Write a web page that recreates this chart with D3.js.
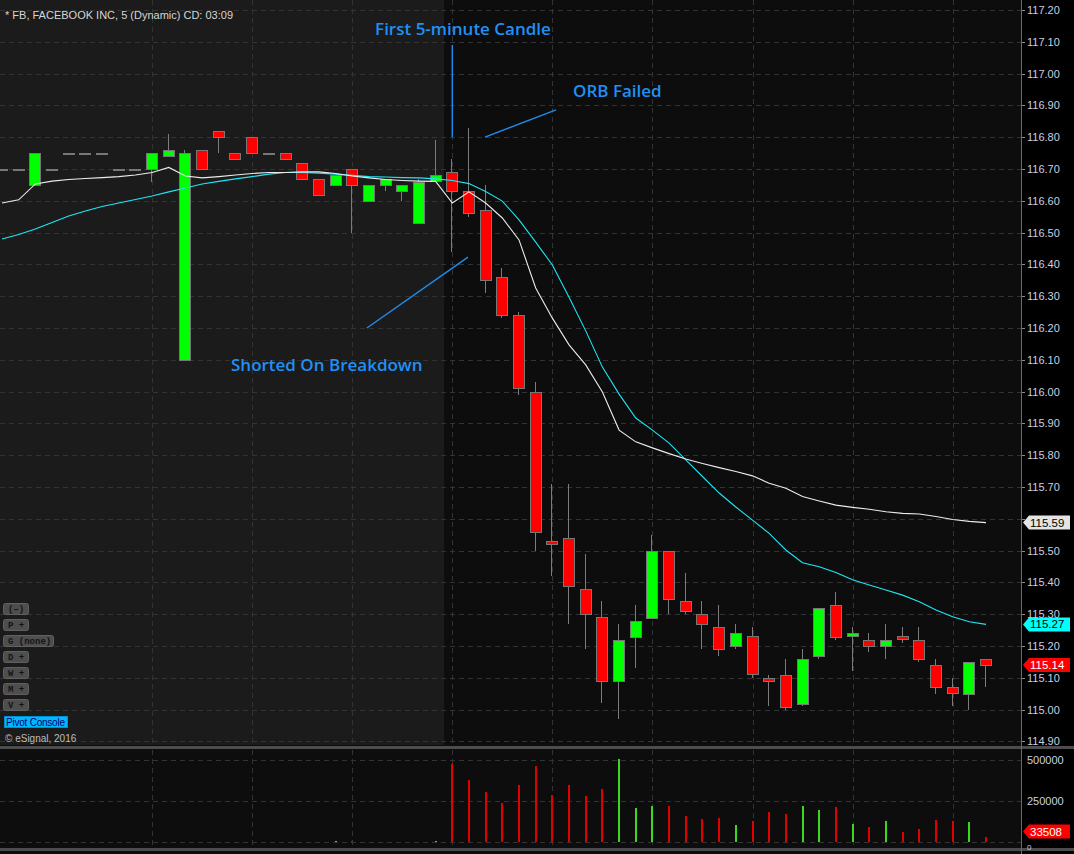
<!DOCTYPE html>
<html>
<head>
<meta charset="utf-8">
<script src="https://cdn.jsdelivr.net/npm/d3@7"></script>
<style>
  html, body { margin: 0; padding: 0; background: #000; }
  svg { display: block; }
</style>
</head>
<body>
<script>
// 5-minute bars, FB, pre-market then regular session from 09:30
const times = ['07:15','07:20','07:25','07:30','07:35','07:40','07:45','07:50','07:55','08:00',
    '08:05','08:10','08:15','08:20','08:25','08:30','08:35','08:40','08:45','08:50',
    '08:55','09:00','09:05','09:10','09:15','09:20','09:25','09:30','09:35','09:40',
    '09:45','09:50','09:55','10:00','10:05','10:10','10:15','10:20','10:25','10:30',
    '10:35','10:40','10:45','10:50','10:55','11:00','11:05','11:10','11:15','11:20',
    '11:25','11:30','11:35','11:40','11:45','11:50','11:55','12:00','12:05','12:10']

const opens = [116.70,116.70,116.65,116.70,116.75,116.75,116.75,116.70,116.70,116.70,
    116.74,116.10,116.76,116.82,116.75,116.80,116.75,116.75,116.72,116.67,
    116.65,116.70,116.60,116.65,116.63,116.53,116.66,116.69,116.63,116.57,
    116.36,116.24,116.00,115.53,115.54,115.38,115.29,115.09,115.23,115.29,
    115.50,115.34,115.30,115.26,115.20,115.23,115.10,115.11,115.02,115.17,
    115.33,115.23,115.22,115.20,115.23,115.22,115.14,115.07,115.05,115.16]

const highs = [116.70,116.70,116.75,116.70,116.75,116.75,116.75,116.70,116.70,116.75,
    116.81,116.76,116.76,116.82,116.75,116.80,116.75,116.75,116.72,116.67,
    116.68,116.70,116.65,116.67,116.65,116.67,116.79,116.73,116.83,116.65,
    116.39,116.25,116.03,115.71,115.71,115.49,115.34,115.27,115.33,115.55,
    115.50,115.43,115.34,115.33,115.27,115.26,115.11,115.16,115.19,115.32,
    115.37,115.26,115.24,115.27,115.26,115.26,115.16,115.10,115.15,115.16]

const lows = [116.70,116.70,116.65,116.70,116.75,116.75,116.75,116.70,116.70,116.66,
    116.74,116.10,116.70,116.75,116.73,116.75,116.75,116.73,116.67,116.62,
    116.65,116.50,116.60,116.63,116.60,116.53,116.66,116.44,116.55,116.31,
    116.23,115.99,115.50,115.42,115.27,115.19,115.02,114.97,115.13,115.29,
    115.30,115.30,115.19,115.17,115.19,115.10,115.01,115.00,115.01,115.16,
    115.22,115.12,115.18,115.16,115.21,115.15,115.05,115.01,115.00,115.07]

const closes = [116.70,116.70,116.75,116.70,116.75,116.75,116.75,116.70,116.70,116.75,
    116.76,116.75,116.70,116.80,116.73,116.75,116.75,116.73,116.67,116.62,
    116.68,116.65,116.65,116.67,116.65,116.66,116.68,116.63,116.56,116.35,
    116.24,116.01,115.56,115.52,115.39,115.30,115.09,115.22,115.28,115.50,
    115.35,115.31,115.27,115.19,115.24,115.11,115.09,115.01,115.16,115.32,
    115.23,115.24,115.20,115.22,115.22,115.16,115.07,115.05,115.15,115.14]

const volumes = [0,0,0,0,0,0,0,0,0,0,
    0,0,0,0,0,0,0,0,0,0,
    4000,8000,0,0,0,0,8000,477000,379000,306000,
    239000,349000,465000,288000,349000,282000,324000,508000,208000,220000,
    220000,159000,141000,147000,104000,128000,184000,171000,220000,196000,
    214000,110000,92000,128000,61000,80000,135000,128000,122000,33508]

// moving averages (white = fast, cyan = slow)
const maFast = [116.593,116.603,116.653,116.662,116.667,116.670,116.673,116.676,116.681,116.689,
    116.705,116.678,116.672,116.676,116.681,116.686,116.689,116.689,116.691,116.691,
    116.686,116.678,116.672,116.667,116.664,116.662,116.661,116.593,116.628,116.593,
    116.546,116.477,116.326,116.231,116.147,116.084,115.999,115.879,115.842,115.823,
    115.805,115.788,115.774,115.761,115.749,115.735,115.712,115.696,115.670,115.656,
    115.643,115.636,115.630,115.622,115.617,115.615,115.607,115.598,115.592,115.588]

const maSlow = [116.480,116.494,116.511,116.532,116.552,116.568,116.582,116.593,116.604,116.615,
    116.628,116.640,116.653,116.661,116.669,116.676,116.684,116.689,116.689,116.687,
    116.684,116.680,116.676,116.675,116.673,116.672,116.669,116.664,116.654,116.629,
    116.599,116.540,116.470,116.398,116.297,116.191,116.077,115.992,115.917,115.879,
    115.838,115.785,115.733,115.681,115.637,115.596,115.554,115.502,115.462,115.449,
    115.431,115.408,115.392,115.376,115.360,115.339,115.313,115.292,115.276,115.268]

const priceTicks = [117.20,117.10,117.00,116.90,116.80,116.70,116.60,116.50,116.40,116.30,116.20,116.10,
    116.00,115.90,115.80,115.70,115.60,115.50,115.40,115.30,115.20,115.10,115.00,114.90]
const volumeTicks = [500000, 250000, 0]

const sessionStart = '09:30'
const title = '* FB, FACEBOOK INC, 5 (Dynamic) CD: 03:09'
const buttons = ['(\u2013)', 'P +', 'G (none)', 'D +', 'W +', 'M +', 'V +']

// annotations in bar-index / price space
const notes = [
    { text: 'First 5-minute Candle', at: [22.37, 117.121], line: [[27, 117.09], [27, 116.80]] },
    { text: 'ORB Failed', at: [34.24, 116.926], line: [[28.96, 116.80], [33.22, 116.886]] },
    { text: 'Shorted On Breakdown', at: [13.73, 116.065], line: [[21.88, 116.20], [27.94, 116.423]] }
]

const w = 1074
const h = 854
const axisX = 1021
const priceBottom = 745
const volTop = 750
const volBottom = 848
const font = "'Liberation Sans', Arial, sans-serif"

const svg = d3.select('body').append('svg')
    .attr('width', w)
    .attr('height', h)

const x = d3.scalePoint().domain(times).range([2, 986])
const xi = i => x(times[0]) + i * x.step()
const y = d3.scaleLinear().domain([114.90, 117.20]).range([741.4, 10])
const yVol = d3.scaleLinear().domain([0, 500000]).range([842, 760.3])

const sessionX = Math.round(x(sessionStart) - x.step() / 2)

// backgrounds
svg.append('rect').attr('width', w).attr('height', h).attr('fill', '#0d0d0d')
svg.append('rect').attr('x', 0).attr('y', 0).attr('width', sessionX).attr('height', priceBottom).attr('fill', '#1b1b1b')
svg.append('rect').attr('x', axisX).attr('y', 0).attr('width', w - axisX).attr('height', h).attr('fill', '#000')

svg.append('defs').append('clipPath').attr('id', 'plot')
    .append('rect').attr('x', 0).attr('y', 0).attr('width', axisX).attr('height', priceBottom)

// grid
const halfHours = times.filter(t => (t.endsWith(':00') || t.endsWith(':30')) && t >= '08:00')
const grid = svg.append('g')
    .attr('stroke', '#333')
    .attr('stroke-dasharray', '5,4')
    .attr('shape-rendering', 'crispEdges')

grid.selectAll('.hgrid')
    .data(priceTicks)
    .enter()
    .append('line')
    .attr('x1', 0)
    .attr('x2', axisX)
    .attr('y1', d => Math.round(y(d)) + 0.5)
    .attr('y2', d => Math.round(y(d)) + 0.5)

grid.selectAll('.vgrid')
    .data(halfHours)
    .enter()
    .append('line')
    .attr('x1', d => Math.round(x(d)) + 0.5)
    .attr('x2', d => Math.round(x(d)) + 0.5)
    .attr('y1', 0)
    .attr('y2', priceBottom)

grid.selectAll('.vvgrid')
    .data(halfHours)
    .enter()
    .append('line')
    .attr('x1', d => Math.round(x(d)) + 0.5)
    .attr('x2', d => Math.round(x(d)) + 0.5)
    .attr('y1', volTop)
    .attr('y2', volBottom)

grid.selectAll('.volgrid')
    .data(volumeTicks)
    .enter()
    .append('line')
    .attr('x1', 0)
    .attr('x2', axisX)
    .attr('y1', d => Math.round(yVol(d)) + 0.5)
    .attr('y2', d => Math.round(yVol(d)) + 0.5)

// candles
const bars = times.map((t, i) => ({ t, o: opens[i], h: highs[i], l: lows[i], c: closes[i], v: volumes[i] }))
const dir = d => d.c > d.o ? 'up' : d.c < d.o ? 'down' : 'flat'
const bodyFill = { up: '#00ff00', down: '#ff0000', flat: '#808080' }
const volFill = { up: '#3fd61e', down: '#e00000', flat: '#808080' }

const candles = svg.append('g').attr('clip-path', 'url(#plot)').attr('shape-rendering', 'crispEdges')

candles.selectAll('.wick')
    .data(bars.filter(d => d.h > Math.max(d.o, d.c) || d.l < Math.min(d.o, d.c)))
    .enter()
    .append('line')
    .attr('x1', d => Math.round(x(d.t)) - 0.5)
    .attr('x2', d => Math.round(x(d.t)) - 0.5)
    .attr('y1', d => y(d.h))
    .attr('y2', d => y(d.l))
    .attr('stroke', '#7c7c7c')
    .attr('stroke-width', 1)

candles.selectAll('.body')
    .data(bars)
    .enter()
    .append('rect')
    .attr('x', d => Math.round(x(d.t)) - 5.5)
    .attr('width', 11)
    .attr('y', d => Math.round(y(Math.max(d.o, d.c))) + 0.5)
    .attr('height', d => Math.max(1, Math.round(y(Math.min(d.o, d.c)) - y(Math.max(d.o, d.c)))))
    .attr('fill', d => bodyFill[dir(d)])
    .attr('stroke', '#777')
    .attr('stroke-width', 1)

// moving averages
const maLine = arr => d3.line()
    .x((d, i) => x(times[i]))
    .y(d => y(d))(arr)

const lines = svg.append('g').attr('clip-path', 'url(#plot)').attr('fill', 'none')
lines.append('path').attr('d', maLine(maSlow)).attr('stroke', '#1fe6f5').attr('stroke-width', 1.1)
lines.append('path').attr('d', maLine(maFast)).attr('stroke', '#ececec').attr('stroke-width', 1.1)

// volume bars
svg.append('g').attr('shape-rendering', 'crispEdges')
    .selectAll('rect')
    .data(bars.filter(d => d.v > 0))
    .enter()
    .append('rect')
    .attr('x', d => Math.round(x(d.t)) - 1)
    .attr('width', 2)
    .attr('y', d => yVol(d.v))
    .attr('height', d => Math.max(1, yVol(0) - yVol(d.v)))
    .attr('fill', d => volFill[dir(d)])

// pane separators
svg.append('rect').attr('x', 0).attr('y', priceBottom + 1).attr('width', w).attr('height', 3).attr('fill', '#4c4c4c')
svg.append('rect').attr('x', 0).attr('y', volBottom).attr('width', w).attr('height', 3).attr('fill', '#4c4c4c')

// right axis
svg.append('line')
    .attr('x1', axisX + 0.5).attr('x2', axisX + 0.5)
    .attr('y1', 0).attr('y2', h)
    .attr('stroke', '#6a6a6a')

const last = bars[bars.length - 1]
const fastLast = maFast[maFast.length - 1]
const slowLast = maSlow[maSlow.length - 1]
const markerYs = [y(fastLast), y(slowLast), y(last.c)]

const axis = svg.append('g')
    .attr('font-family', font)
    .attr('font-size', 11)
    .attr('fill', '#c8d0e0')

axis.selectAll('.ptick')
    .data(priceTicks)
    .enter()
    .append('line')
    .attr('x1', axisX + 1).attr('x2', axisX + 4)
    .attr('y1', d => Math.round(y(d)) + 0.5)
    .attr('y2', d => Math.round(y(d)) + 0.5)
    .attr('stroke', '#8a8a8a')

// labels hidden behind the value markers are not drawn
axis.selectAll('.plabel')
    .data(priceTicks.filter(p => markerYs.every(my => Math.abs(y(p) - my) > 9)))
    .enter()
    .append('text')
    .attr('x', axisX + 6)
    .attr('y', d => y(d) + 4)
    .text(d => d.toFixed(2))

axis.selectAll('.vlabel')
    .data(volumeTicks.filter(v => v > 0))
    .enter()
    .append('text')
    .attr('x', axisX + 6)
    .attr('y', d => yVol(d) + 4)
    .text(d => d)

// last-value markers
const marker = (yy, label, fill, color) => {
    const g = svg.append('g')
    const top = yy - 7, bot = yy + 7
    g.append('path')
        .attr('d', `M${axisX + 2},${yy} L${axisX + 8},${top} L${w - 4},${top} L${w - 4},${bot} L${axisX + 8},${bot} Z`)
        .attr('fill', fill)
    g.append('text')
        .attr('x', axisX + 9)
        .attr('y', yy + 4)
        .attr('font-family', font)
        .attr('font-size', 11.5)
        .attr('fill', color)
        .text(label)
}

marker(y(fastLast), fastLast.toFixed(2), '#e4e4e4', '#000')
marker(y(slowLast), slowLast.toFixed(2), '#00ffff', '#000')
marker(y(last.c), last.c.toFixed(2), '#ff0000', '#fff')
marker(yVol(last.v) - 5, String(last.v), '#ff0000', '#fff')

// the zero label peeks out below the volume marker
axis.append('text')
    .attr('x', axisX + 6)
    .attr('y', yVol(0) + 8)
    .attr('font-size', 8)
    .text(volumeTicks[volumeTicks.length - 1])

// annotations
const notesG = svg.append('g')
notes.forEach(n => {
    notesG.append('line')
        .attr('x1', xi(n.line[0][0])).attr('y1', y(n.line[0][1]))
        .attr('x2', xi(n.line[1][0])).attr('y2', y(n.line[1][1]))
        .attr('stroke', '#1f8ef0')
        .attr('stroke-width', 1.4)
    notesG.append('text')
        .attr('x', xi(n.at[0]))
        .attr('y', y(n.at[1]))
        .attr('font-family', "'Open Sans', sans-serif")
        .attr('font-size', 17)
        .attr('font-weight', 600)
        .attr('fill', '#2090f5')
        .text(n.text)
})

// header
svg.append('text')
    .attr('x', 5)
    .attr('y', 19)
    .attr('font-family', font)
    .attr('font-size', 11)
    .attr('fill', '#d6d6d6')
    .text(title)

// study buttons
const btn = svg.append('g').attr('font-family', "'Liberation Mono', monospace").attr('font-size', 9)
buttons.forEach((b, i) => {
    const bw = b.length > 3 ? 50 : 25
    btn.append('rect')
        .attr('x', 3.5).attr('y', 603.5 + i * 16)
        .attr('width', bw).attr('height', 11)
        .attr('rx', 2)
        .attr('fill', '#4e4e4e')
        .attr('stroke', '#606060')
    btn.append('text')
        .attr('x', 8).attr('y', 612 + i * 16)
        .attr('fill', '#141414')
        .attr('font-weight', 'bold')
        .text(b)
})

svg.append('rect')
    .attr('x', 4.5).attr('y', 716.5).attr('width', 63).attr('height', 11)
    .attr('fill', '#00b7ff').attr('stroke', '#008fd0')
svg.append('text')
    .attr('x', 6).attr('y', 725.5)
    .attr('font-family', font).attr('font-size', 10)
    .attr('textLength', 59)
    .attr('fill', '#00006e')
    .text('Pivot Console')

svg.append('text')
    .attr('x', 5).attr('y', 742)
    .attr('font-family', font).attr('font-size', 10)
    .attr('fill', '#bdbdbd')
    .text('\u00a9 eSignal, 2016')
</script>
</body>
</html>
